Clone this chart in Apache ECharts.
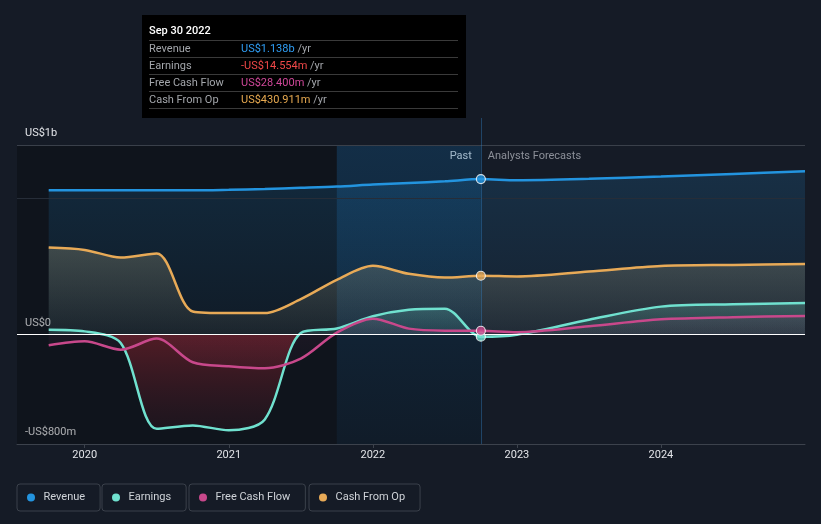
<!DOCTYPE html>
<html>
<head>
<meta charset="utf-8">
<script src="https://cdn.jsdelivr.net/npm/echarts@6/dist/echarts.min.js"></script>
<style>
html,body{margin:0;padding:0;background:#151b26;}
#chart{width:821px;height:524px;}
</style>
</head>
<body>
<div id="chart"></div>
<script>
// ---- data (US$ millions) ----
const periods = [2019.75, 2020.0, 2020.25, 2020.5, 2020.75, 2021.0, 2021.25, 2021.5, 2021.75, 2022.0, 2022.25, 2022.5, 2022.75, 2023.0, 2023.5, 2024.0, 2024.5, 2025.0];
const revenue  = [1057, 1057, 1057, 1057, 1056, 1060, 1066, 1074, 1083, 1098, 1110, 1122, 1138, 1130, 1140, 1157, 1176, 1195];
const earnings = [36, 24, -61, -689, -664, -700, -620, 12, 45, 135, 182, 190, -14.554, 0, 109, 205, 222, 231];
const freeCashFlow = [-78, -49, -110, -29, -202, -231, -246, -175, 15, 117, 44, 29, 28.4, 18, 61, 112, 128, 136];
const cashFromOp = [637, 620, 564, 594, 170, 158, 158, 260, 401, 504, 445, 418, 430.911, 426, 462, 502, 510, 516];
const seriesNames = ['Revenue', 'Earnings', 'Free Cash Flow', 'Cash From Op'];
const xTickValues = [2020, 2021, 2022, 2023, 2024];
const yTickValues = [-800, 0, 1387];
const yTickLabels = ['-US$800m', 'US$0', 'US$1b'];
const gridLineValue = 1000;
const pastEndIndex = 12;
const pastEndLabel = 'Sep 30 2022';
const highlightStart = 2021.75;
const xMin = 2019.53, xMax = 2025.0;
const yMin = -800, yMax = 1585;

const colors = ['#2394df', '#70e1cf', '#c8488b', '#e8aa57'];
const valueColors = ['#2f9ef5', '#f04848', '#d0489a', '#e8aa50'];
const allSeries = [revenue, earnings, freeCashFlow, cashFromOp];

function pairs(arr){ return periods.map((p,i)=>[p, arr[i]]); }
function fmt(v){
  const a = Math.abs(v);
  const s = a >= 1000 ? (a/1000).toFixed(3)+'b' : a.toFixed(3)+'m';
  return (v < 0 ? '-' : '') + 'US$' + s;
}

const eMax = Math.max(0, ...earnings), eMin = Math.min(0, ...earnings);
const eZero = eMax / (eMax - eMin);

const font = 'Roboto, sans-serif';
const topLine = yTickValues[yTickValues.length-1];

function lineSeries(k, area){
  return {
    name: seriesNames[k], type: 'line', data: pairs(allSeries[k]),
    smooth: 0.3, showSymbol: false, z: 3, color: colors[k],
    lineStyle: {width: 2.5, color: colors[k]},
    areaStyle: area, emphasis: {disabled: true}, silent: true
  };
}
const grad = (stops) => new echarts.graphic.LinearGradient(0,0,0,1, stops.map((c,i)=>({offset: c[0], color: c[1]})));

const legendLefts = [17, 102, 189, 309];

const option = {
  backgroundColor: '#151b26',
  animation: false,
  grid: {left: 17, right: 16, top: 118, bottom: 80},
  xAxis: {
    type: 'value', min: xMin, max: xMax,
    axisLine: {show: true, onZero: false, lineStyle: {color: '#3c424c', width: 1}},
    axisTick: {show: true, customValues: xTickValues, length: 4, lineStyle: {color: '#3c424c'}},
    axisLabel: {customValues: xTickValues, formatter: v => String(Math.round(v)), color: '#e2e4e8', fontSize: 11, fontFamily: font, margin: 6},
    splitLine: {show: false}
  },
  yAxis: {
    type: 'value', min: yMin, max: yMax,
    axisLine: {show: false}, axisTick: {show: false}, splitLine: {show: false},
    axisLabel: {
      inside: true, margin: 8, customValues: yTickValues,
      formatter: v => { const i = yTickValues.findIndex(t => Math.abs(t - v) < 0.5); return i >= 0 ? yTickLabels[i] : ''; },
      color: '#e2e4e8', fontSize: 11, fontFamily: font, verticalAlign: 'bottom', lineHeight: 13, padding: [0,0,5,0]
    }
  },
  tooltip: {
    trigger: 'item', triggerOn: 'none', alwaysShowContent: true,
    position: [142, 15], padding: 0, backgroundColor: '#000', borderWidth: 0, borderColor: '#000',
    transitionDuration: 0, showDelay: 0,
    extraCssText: 'box-shadow:none;border-radius:0;',
    formatter: function(){
      const i = pastEndIndex;
      let rows = '';
      for (let k = 0; k < 4; k++){
        const v = allSeries[k][i];
        const vc = (v < 0) ? '#f04848' : valueColors[k];
        rows += '<div style="display:flex;height:16px;line-height:16px;border-bottom:1px solid #3a3a3a;white-space:nowrap">'
             + '<span style="width:92px;color:#a3a6ab">' + seriesNames[k] + '</span>'
             + '<span style="color:' + vc + '">' + fmt(v) + '</span>'
             + '<span style="color:#a3a6ab">&nbsp;/yr</span></div>';
      }
      return '<div style="width:324px;height:103px;box-sizing:border-box;padding:0 8px 0 7px;font-family:Roboto,sans-serif;font-size:11px;">'
        + '<div style="padding-top:9px;height:14px;line-height:14px;padding-bottom:2px;border-bottom:1px solid #3a3a3a;color:#fff;font-weight:500">' + pastEndLabel + '</div>'
        + rows + '</div>';
    }
  },
  legend: seriesNames.map((n, k) => ({
    data: [{name: n, icon: 'circle'}], left: legendLefts[k], top: 484,
    orient: 'horizontal', itemWidth: 11, itemHeight: 8,
    padding: [7, 15, 7, 10], borderColor: '#3b414b', borderWidth: 1, borderRadius: 3,
    textStyle: {color: '#cfd3d8', fontSize: 11, fontFamily: font, lineHeight: 13, padding: [0,0,0,2]},
    selectedMode: false
  })),
  series: [
    { // background bands and grid lines
      type: 'line', data: [], z: 1, silent: true,
      markArea: {
        silent: true,
        data: [
          [{xAxis: xMin, yAxis: yMin, itemStyle: {color: 'rgba(0,0,0,0.25)'}}, {xAxis: periods[pastEndIndex], yAxis: topLine}],
          [{xAxis: highlightStart, yAxis: yMin, itemStyle: {color: grad([[0,'rgba(33,150,243,0.2)'],[1,'rgba(33,150,243,0.06)']])}}, {xAxis: periods[pastEndIndex], yAxis: topLine}]
        ]
      },
      markLine: {
        silent: true, symbol: 'none', label: {show: false},
        data: [
          {yAxis: topLine, lineStyle: {color: '#3a404a', width: 1, type: 'solid'}},
          {yAxis: gridLineValue, lineStyle: {color: '#262d38', width: 1, type: 'solid'}},
          {xAxis: periods[pastEndIndex], lineStyle: {color: 'rgba(50,130,200,0.4)', width: 1, type: 'solid'}}
        ]
      }
    },
    lineSeries(0, {color: grad([[0,'rgba(35,148,223,0.24)'],[1,'rgba(35,148,223,0.08)']])}),
    lineSeries(3, {color: grad([[0,'rgba(205,195,150,0.34)'],[1,'rgba(205,195,150,0.08)']])}),
    lineSeries(1, {color: grad([[0,'rgba(112,225,207,0.3)'],[eZero,'rgba(112,225,207,0.12)'],[eZero,'rgba(175,40,50,0.6)'],[1,'rgba(120,30,45,0.18)']])}),
    lineSeries(2, {color: grad([[0,'rgba(200,72,139,0.12)'],[1,'rgba(200,72,139,0.03)']])}),
    { // zero line
      type: 'line', data: [], z: 4, silent: true,
      markLine: {silent: true, symbol: 'none', label: {show: false},
        data: [{yAxis: 0, lineStyle: {color: '#ffffff', width: 1, type: 'solid'}}]}
    },
    { // highlighted last reported points
      type: 'scatter', z: 5, symbolSize: 9,
      data: allSeries.map((arr, k) => ({value: [periods[pastEndIndex], arr[pastEndIndex]], itemStyle: {color: colors[k]}})),
      itemStyle: {borderColor: '#ffffff', borderWidth: 1.2},
      emphasis: {disabled: true}
    }
  ]
};

const chart = echarts.init(document.getElementById('chart'), null, {renderer: 'canvas'});
chart.setOption(option);
const p = chart.convertToPixel({xAxisIndex: 0, yAxisIndex: 0}, [periods[pastEndIndex], topLine]);
chart.setOption({
  graphic: [
    {type: 'text', x: p[0] - 9, y: p[1] + 11, style: {text: 'Past', fill: '#ffffff', font: '11px Roboto, sans-serif', align: 'right', verticalAlign: 'middle'}, silent: true},
    {type: 'text', x: p[0] + 7, y: p[1] + 11, style: {text: 'Analysts Forecasts', fill: '#8c9099', font: '11px Roboto, sans-serif', align: 'left', verticalAlign: 'middle'}, silent: true}
  ]
});
chart.dispatchAction({type: 'showTip', seriesIndex: 6, dataIndex: 0});
</script>
</body>
</html>
